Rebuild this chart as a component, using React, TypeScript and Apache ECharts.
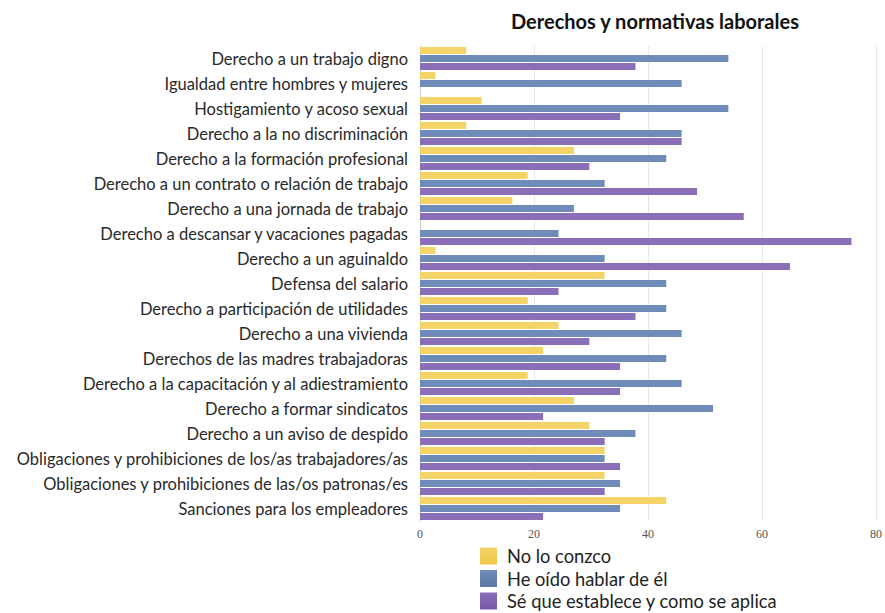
import React, { useEffect, useRef } from "react";
import * as echarts from "echarts";

const categories = [
  "Derecho a un trabajo digno",
  "Igualdad entre hombres y mujeres",
  "Hostigamiento y acoso sexual",
  "Derecho a la no discriminación",
  "Derecho a la formación profesional",
  "Derecho a un contrato o relación de trabajo",
  "Derecho a una jornada de trabajo",
  "Derecho a descansar y vacaciones pagadas",
  "Derecho a un aguinaldo",
  "Defensa del salario",
  "Derecho a participación de utilidades",
  "Derecho a una vivienda",
  "Derechos de las madres trabajadoras",
  "Derecho a la capacitación y al adiestramiento",
  "Derecho a formar sindicatos",
  "Derecho a un aviso de despido",
  "Obligaciones y prohibiciones de los/as trabajadores/as",
  "Obligaciones y prohibiciones de las/os patronas/es",
  "Sanciones para los empleadores",
];

const noLoConozco = [8.1, 2.7, 10.8, 8.1, 27.0, 18.9, 16.2, 0, 2.7, 32.4, 18.9, 24.3, 21.6, 18.9, 27.0, 29.7, 32.4, 32.4, 43.2];
const heOidoHablar = [54.1, 45.9, 54.1, 45.9, 43.2, 32.4, 27.0, 24.3, 32.4, 43.2, 43.2, 45.9, 43.2, 45.9, 51.4, 37.8, 32.4, 35.1, 35.1];
const seQueEstablece = [37.8, 0, 35.1, 45.9, 29.7, 48.6, 56.8, 75.7, 64.9, 24.3, 37.8, 29.7, 35.1, 35.1, 21.6, 32.4, 35.1, 32.4, 21.6];

const seriesNames = ["No lo conzco", "He oído hablar de él", "Sé que establece y como se aplica"];
const xTicks = { min: 0, max: 80, interval: 20 };

const colors = ["#F4D469", "#6F8BB9", "#8A6EB8"];
const colorsDark = ["#EFC647", "#5D77A6", "#7559A6"];

export default function App() {
  const ref = useRef<HTMLDivElement>(null);
  useEffect(() => {
    if (!ref.current) return;
    const chart = echarts.init(ref.current, null, { renderer: "svg" });
    const grad = (i: number) =>
      new echarts.graphic.LinearGradient(0, 0, 0, 1, [
        { offset: 0, color: colors[i] },
        { offset: 1, color: colorsDark[i] },
      ]);
    const data = [noLoConozco, heOidoHablar, seQueEstablece];
    chart.setOption({
      animation: false,
      backgroundColor: "#ffffff",
      title: {
        text: "Derechos y normativas laborales",
        left: 650,
        textAlign: "center",
        top: 6,
        textStyle: { fontFamily: "Lato", fontSize: 20, fontWeight: "bold", color: "#111" },
      },
      legend: {
        orient: "vertical",
        left: 480,
        top: 547,
        padding: 0,
        itemWidth: 17,
        itemHeight: 17,
        itemGap: 4.5,
        icon: "rect",
        data: seriesNames.map((n, i) => ({ name: n, itemStyle: { color: grad(i) } })),
        textStyle: { fontFamily: "Lato", fontSize: 18.3, color: "#222", padding: [0, 0, 0, 5] },
      },
      grid: { left: 420, right: 5.5, top: 46, bottom: 92, containLabel: false },
      xAxis: {
        type: "value",
        min: xTicks.min,
        max: xTicks.max,
        interval: xTicks.interval,
        axisLine: { show: false },
        axisTick: { show: false },
        splitLine: { show: true, lineStyle: { color: "#e8e8e8", width: 1 } },
        axisLabel: { fontFamily: "Liberation Serif", fontSize: 12, color: "#555", margin: 7 },
      },
      yAxis: {
        type: "category",
        data: categories,
        inverse: true,
        axisLine: { show: true, lineStyle: { color: "#cccccc" } },
        axisTick: { show: false },
        axisLabel: { fontFamily: "Lato", fontSize: 16.5, color: "#2a2a2a", margin: 12 },
      },
      series: seriesNames.map((name, i) => ({
        name,
        type: "bar",
        data: data[i],
        barWidth: 7,
        barGap: "15%",
        itemStyle: { color: colors[i] },
      })),
    });
    return () => chart.dispose();
  }, []);
  return <div ref={ref} style={{ width: 885, height: 613, position: "absolute", left: 0, top: 0 }} />;
}
